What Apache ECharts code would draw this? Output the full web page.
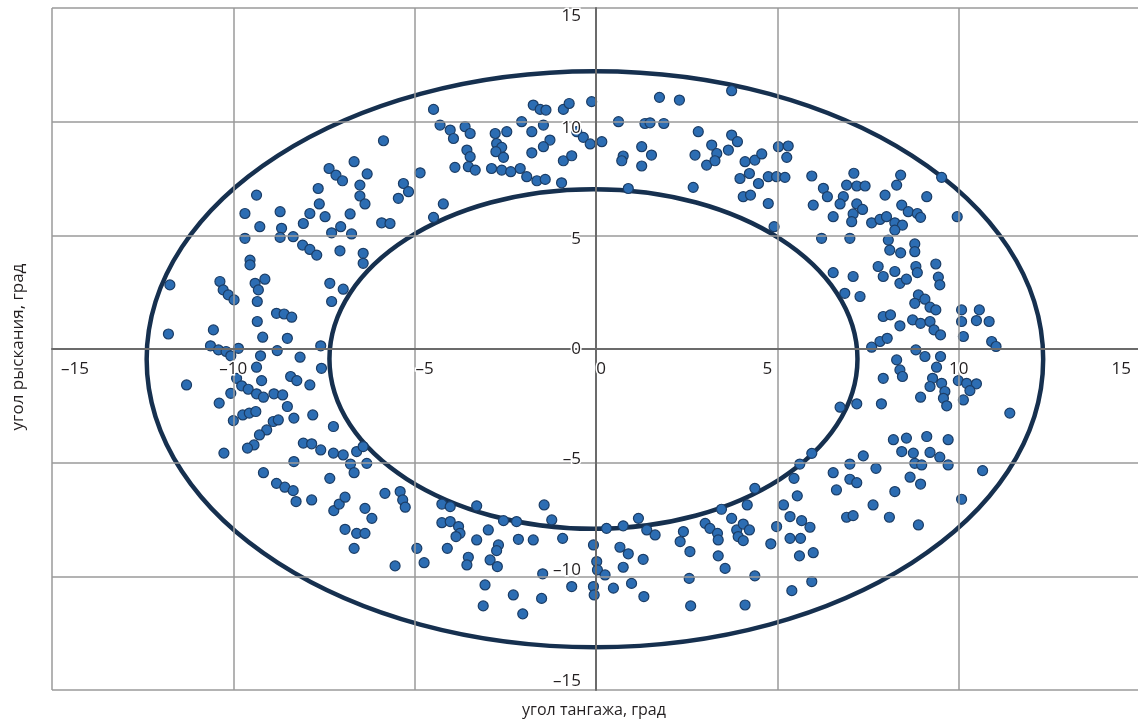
<!DOCTYPE html>
<html><head><meta charset="utf-8">
<script src="https://cdn.jsdelivr.net/npm/echarts@6/dist/echarts.min.js"></script>
<style>html,body{margin:0;padding:0;background:#fff}#c{width:1138px;height:722px}</style>
</head><body><div id="c"></div>
<script>
// Axis ticks
const tickValues = [-15, -10, -5, 0, 5, 10, 15];
const xAxisName = 'угол тангажа, град';
const yAxisName = 'угол рыскания, град';
// Boundary ellipses: [centerX, centerY, radiusX, radiusY]
const outerEllipse = [-0.03, -0.45, 12.36, 12.67];
const innerEllipse = [-0.07, -0.44, 7.28, 7.47];

// Measured points [pitch, yaw] grouped by region
const ptsUpperLeft = [[-6.67,8.24],[-7.36,7.94],[-7.17,7.65],[-6.99,7.40],[-6.31,7.70],[-7.66,7.06],[-6.51,7.21],[-9.36,6.77],[-6.51,6.73],[-6.37,6.38],[-7.63,6.38],[-9.68,5.96],[-8.71,6.04],[-7.89,5.96],[-7.47,5.82],[-6.78,5.94],[-8.07,5.52],[-9.27,5.38],[-8.67,5.31],[-8.71,4.91],[-8.35,4.94],[-7.29,5.11],[-7.04,5.38],[-6.74,5.06],[-9.68,4.87],[-8.09,4.57],[-7.89,4.38],[-7.06,4.32],[-7.70,4.13],[-6.42,4.21],[-9.54,3.91]];
const ptsTopLeft = [[-4.48,10.54],[-4.30,9.85],[-4.02,9.63],[-3.93,9.26],[-3.61,9.78],[-3.47,9.48],[-3.56,8.75],[-3.47,8.46],[-3.52,8.02],[-3.33,7.87],[-3.89,7.99],[-4.85,7.75],[-2.78,9.48],[-2.46,9.56],[-2.74,9.04],[-2.60,8.87],[-2.76,8.68],[-2.55,8.43],[-2.88,7.94],[-2.60,7.87],[-2.35,7.80],[-2.05,10.0],[-1.77,9.56],[-1.45,9.85],[-1.27,9.19],[-1.45,8.90],[-1.77,8.63],[-1.73,10.73],[-1.54,10.54],[-1.38,10.51],[-2.09,7.94],[-1.91,7.58],[-1.63,7.40],[-1.40,7.46],[-0.95,7.31],[-0.90,10.54],[-0.74,10.80],[-0.53,9.56],[-0.35,9.31],[-0.16,9.02],[-0.12,10.88],[-0.90,8.28],[-0.67,8.50],[-5.86,9.16],[-5.31,7.28],[-5.17,6.92],[-5.45,6.63],[-5.91,5.55],[-5.68,5.52],[-4.21,6.38],[-4.48,5.79]];
const ptsTopRight = [[0.16,9.12],[1.75,11.07],[2.30,10.95],[0.62,10.0],[1.35,9.92],[1.49,9.95],[1.87,9.92],[1.26,8.90],[1.53,8.53],[0.75,8.49],[0.71,8.28],[1.26,8.05],[2.82,9.56],[2.73,8.53],[3.05,8.09],[3.19,8.97],[3.33,8.60],[3.28,8.28],[3.65,8.75],[3.74,9.41],[3.90,9.12],[3.74,11.36],[0.89,7.06],[2.68,7.11],[4.11,8.24],[4.38,8.31],[4.57,8.58],[3.97,7.50],[4.23,7.72],[4.48,7.28],[4.75,7.58],[4.98,7.58],[5.21,7.55],[4.06,6.70],[4.26,6.77],[4.75,6.40],[4.91,5.38],[5.03,8.90],[5.30,8.93],[5.26,8.43],[5.95,7.61],[6.27,7.07],[6.38,6.70],[5.99,6.33],[6.22,4.87]];
const ptsUpperRight = [[7.11,7.73],[6.91,7.21],[7.19,7.17],[7.42,7.17],[6.82,6.70],[6.73,6.38],[7.19,6.38],[7.35,6.14],[7.09,5.94],[7.05,5.60],[6.54,5.82],[8.40,7.65],[8.29,7.21],[7.97,6.77],[8.43,6.33],[8.61,6.04],[8.86,5.96],[8.95,5.79],[9.12,6.70],[9.53,7.55],[9.96,5.82],[7.60,5.55],[7.83,5.70],[8.01,5.82],[8.24,5.55],[8.45,5.45],[8.24,5.23],[7.00,4.87],[8.06,4.79],[8.10,4.35],[8.40,4.23],[8.79,4.62],[8.79,4.28]];
const ptsRight = [[6.54,3.36],[7.09,3.19],[6.86,2.45],[7.28,2.31],[7.78,3.63],[7.92,3.19],[8.24,3.41],[8.38,2.89],[8.56,3.07],[8.82,3.63],[8.86,3.36],[9.37,3.74],[9.44,3.16],[9.48,2.82],[8.89,2.38],[9.07,2.19],[8.79,2.01],[9.21,1.84],[9.37,1.72],[7.92,1.43],[8.12,1.50],[8.38,1.02],[8.73,1.28],[8.95,1.13],[9.21,1.21],[9.32,0.84],[9.50,0.62],[10.08,1.72],[10.08,1.21],[10.13,0.55],[10.57,1.72],[10.49,1.25],[10.84,1.21],[10.91,0.33],[11.03,0.11],[7.60,0.08],[7.83,0.33],[8.03,0.47],[8.82,-0.04],[9.07,-0.33],[8.29,-0.48],[8.38,-0.92],[8.45,-1.21],[7.92,-1.29],[9.50,-0.33],[9.39,-0.80],[9.28,-1.29],[9.21,-1.65],[9.53,-1.51],[9.62,-1.87],[9.58,-2.17],[9.67,-2.50],[9.99,-1.39],[10.22,-1.51],[10.49,-1.53],[10.31,-1.83],[10.13,-2.24],[8.95,-2.12],[7.87,-2.41],[7.19,-2.41],[6.73,-2.56],[11.41,-2.82],[8.20,-3.99],[8.56,-3.92],[9.12,-3.85],[9.71,-3.99],[8.43,-4.51],[8.75,-4.58],[9.21,-4.55],[9.48,-4.76],[7.37,-4.70]];
const ptsLowerRight = [[6.54,-5.44],[7.00,-5.06],[7.72,-5.25],[7.00,-5.73],[7.19,-5.88],[6.63,-6.20],[8.79,-5.03],[8.98,-5.10],[8.66,-5.64],[8.95,-5.94],[9.71,-5.10],[8.24,-6.27],[7.64,-6.86],[6.91,-7.40],[7.09,-7.33],[8.09,-7.40],[8.89,-7.74],[10.08,-6.61],[10.66,-5.35]];
const ptsLeft = [[-9.54,3.70],[-11.75,2.82],[-10.37,2.97],[-10.28,2.60],[-10.14,2.38],[-9.98,2.16],[-9.40,2.89],[-9.13,3.07],[-9.31,2.60],[-9.34,2.09],[-7.34,2.89],[-6.97,2.63],[-7.29,2.09],[-8.81,1.57],[-8.60,1.54],[-8.39,1.40],[-9.34,1.21],[-11.79,0.66],[-10.55,0.84],[-9.19,0.52],[-8.51,0.47],[-10.63,0.14],[-10.41,-0.04],[-10.20,-0.11],[-10.07,-0.30],[-9.86,0.03],[-9.25,-0.30],[-9.36,-0.80],[-8.79,-0.07],[-8.16,-0.36],[-7.59,0.14],[-7.57,-0.85],[-11.29,-1.58],[-9.91,-1.29],[-9.77,-1.62],[-9.59,-1.77],[-9.22,-1.39],[-9.36,-1.97],[-9.17,-2.12],[-8.88,-1.97],[-8.64,-2.02],[-8.42,-1.21],[-8.25,-1.39],[-7.89,-1.58],[-10.39,-2.38],[-10.07,-1.95],[-8.51,-2.53],[-8.33,-3.04],[-7.81,-2.90],[-10.0,-3.15],[-9.74,-2.90],[-9.56,-2.82],[-9.38,-2.75],[-8.90,-3.19],[-8.76,-3.12],[-9.08,-3.56],[-9.28,-3.78],[-9.43,-4.22],[-9.61,-4.36],[-10.26,-4.58],[-8.07,-4.14],[-7.84,-4.17],[-7.59,-4.44],[-7.24,-4.58],[-6.97,-4.66],[-6.60,-4.51],[-6.42,-4.29],[-7.24,-3.41],[-6.42,3.77]];
const ptsLowerLeft = [[-9.17,-5.44],[-8.81,-5.91],[-8.58,-6.08],[-8.35,-6.23],[-8.27,-6.71],[-7.84,-6.64],[-8.33,-4.95],[-7.34,-5.69],[-7.23,-7.11],[-7.08,-6.82],[-6.92,-6.52],[-6.92,-7.93],[-6.60,-8.11],[-6.37,-8.11],[-6.37,-7.01],[-6.67,-8.77],[-6.77,-5.06],[-6.67,-5.44],[-6.32,-5.03]];
const ptsBottomLeft = [[-6.18,-7.45],[-5.82,-6.35],[-5.40,-6.27],[-5.33,-6.64],[-5.26,-6.96],[-4.25,-6.82],[-4.02,-6.93],[-3.29,-6.90],[-4.25,-7.64],[-4.02,-7.59],[-3.79,-7.81],[-3.75,-8.11],[-3.86,-8.25],[-4.94,-8.77],[-4.74,-9.40],[-5.54,-9.54],[-4.10,-8.77],[-3.29,-8.40],[-3.52,-9.16],[-3.56,-9.50],[-2.97,-7.96],[-2.69,-8.62],[-2.74,-8.87],[-2.92,-9.28],[-2.72,-9.57],[-2.55,-7.55],[-2.19,-7.59],[-2.14,-8.37],[-1.73,-8.40],[-1.43,-6.86],[-1.22,-7.52],[-0.92,-8.33],[-3.06,-10.38],[-3.11,-11.30],[-2.28,-10.82],[-2.02,-11.65],[-1.50,-10.97],[-1.47,-9.89],[-0.67,-10.45],[-0.07,-8.62],[-0.07,-10.45],[-0.05,-10.82],[0.02,-9.35],[0.04,-9.72]];
const ptsBottomRight = [[0.29,-7.89],[0.75,-7.78],[1.17,-7.45],[1.40,-7.96],[1.63,-8.18],[0.66,-8.72],[0.89,-9.01],[1.30,-9.25],[0.75,-9.60],[0.25,-9.94],[0.48,-10.52],[0.98,-10.31],[1.32,-10.89],[2.41,-8.03],[2.32,-8.47],[2.59,-8.91],[2.57,-10.09],[2.61,-11.30],[3.01,-7.67],[3.14,-7.89],[3.35,-8.11],[3.37,-8.40],[3.37,-9.10],[3.56,-9.65],[3.74,-7.45],[3.88,-7.96],[4.06,-7.70],[4.23,-7.96],[3.92,-8.25],[4.06,-8.43],[3.46,-7.05],[4.17,-6.86],[4.38,-6.13],[4.38,-9.98],[4.11,-11.26],[4.82,-8.57],[4.98,-7.81],[5.17,-6.86],[5.35,-7.37],[5.55,-6.46],[5.46,-5.69],[5.62,-5.06],[5.95,-4.59],[5.67,-7.55],[5.90,-7.84],[5.35,-8.33],[5.64,-8.33],[5.61,-9.10],[5.99,-8.96],[5.40,-10.63],[5.95,-10.23]];

const allPoints = [].concat(ptsUpperLeft, ptsTopLeft, ptsTopRight, ptsUpperRight, ptsRight, ptsLowerRight, ptsLeft, ptsLowerLeft, ptsBottomLeft, ptsBottomRight);

const FONT = '"Open Sans", "Noto Sans", sans-serif';
const fmt = v => (v < 0 ? '\u2013' + Math.abs(v) : String(v));
const keyOf = v => (v < 0 ? 'm' + Math.abs(v) : 'p' + v);

// plot box geometry (pixels)
const G = {left: 52, top: 8, width: 1088, height: 682};

const baseText = {fontFamily: FONT, fontSize: 17, color: '#231f20', textBorderColor: '#fff', textBorderWidth: 3};
// small label nudges (pixels of padding) to mimic the original label placement
const xPad = {m15: [0, 0, 0, 9], m10: [0, 0, 0, 0], m5: [0, 0, 0, 20], p0: [0, 0, 0, 10], p5: [0, 20, 0, 0], p10: [0, 0, 0, 0], p15: [0, 9, 0, 0]};
const yPad = {m15: [0, 0, 0, 0], m10: [0, 0, 12, 0], m5: [0, 0, 8, 0], p0: [0, 0, 0, 0], p5: [8, 0, 0, 0], p10: [12, 0, 0, 0], p15: [0, 0, 0, 0]};
function richFrom(pads) {
  const r = {};
  Object.keys(pads).forEach(k => { r[k] = Object.assign({padding: pads[k]}, baseText); });
  return r;
}

const chart = echarts.init(document.getElementById('c'), null, {renderer: 'canvas'});
chart.setOption({
  animation: false,
  backgroundColor: '#fff',
  grid: {left: G.left, top: G.top, width: G.width, height: G.height, show: false, outerBoundsMode: 'none', containLabel: false},
  xAxis: {
    type: 'value', min: tickValues[0], max: tickValues[tickValues.length - 1], interval: 5,
    position: 'bottom', offset: -G.height / 2,
    axisLine: {onZero: false, lineStyle: {color: '#6b6b6b', width: 2}},
    axisTick: {show: false},
    splitLine: {show: true, lineStyle: {color: '#9a9a9a', width: 1.5}},
    axisLabel: Object.assign({margin: 12, alignMinLabel: 'left', alignMaxLabel: 'right',
      formatter: v => '{' + keyOf(v) + '|' + fmt(v) + '}', rich: richFrom(xPad)}, baseText),
    z: 5
  },
  yAxis: {
    type: 'value', min: tickValues[0], max: tickValues[tickValues.length - 1], interval: 5,
    position: 'left', offset: -G.width / 2,
    axisLine: {onZero: false, lineStyle: {color: '#6b6b6b', width: 2}},
    axisTick: {show: false},
    splitLine: {show: true, lineStyle: {color: '#9a9a9a', width: 1.5}},
    axisLabel: Object.assign({margin: 15, verticalAlignMinLabel: 'bottom', verticalAlignMaxLabel: 'top',
      formatter: v => '{' + keyOf(v) + '|' + fmt(v) + '}', rich: richFrom(yPad)}, baseText),
    z: 5
  },
  graphic: [
    {type: 'text', x: 594, y: 710, style: {text: xAxisName, font: '16px ' + FONT, fill: '#231f20', textAlign: 'center', textVerticalAlign: 'middle'}},
    {type: 'text', x: 18, y: 347, rotation: Math.PI / 2,
     style: {text: yAxisName, font: '17px ' + FONT, fill: '#231f20', textAlign: 'center', textVerticalAlign: 'middle'}}
  ],
  series: [
    {
      type: 'custom', z: 3, silent: true,
      data: [outerEllipse, innerEllipse],
      renderItem: function (params, api) {
        const c = api.coord([api.value(0), api.value(1)]);
        const s = api.size([api.value(2), api.value(3)]);
        return {type: 'ellipse', shape: {cx: c[0], cy: c[1], rx: s[0], ry: s[1]},
          style: {fill: null, stroke: '#16304f', lineWidth: 4.5}};
      }
    },
    {
      type: 'scatter', z: 4, symbol: 'circle', symbolSize: 10,
      data: allPoints,
      itemStyle: {color: '#2c6db3', borderColor: '#1b3d66', borderWidth: 1.2, opacity: 1}
    }
  ]
});
</script></body></html>
